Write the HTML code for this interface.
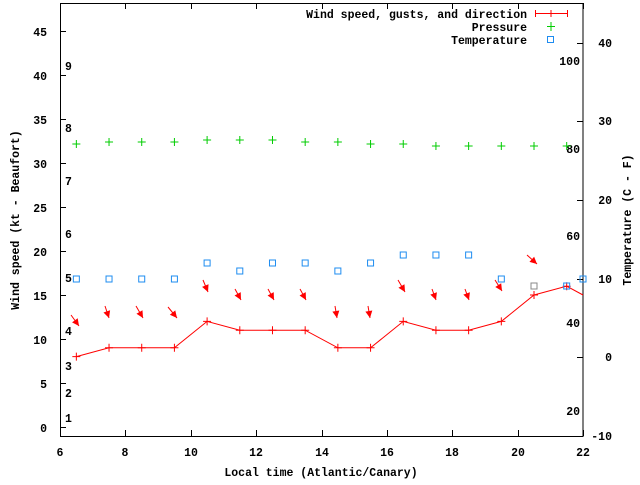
<!DOCTYPE html>
<html><head><style>
body{margin:0;background:#fff}
svg text{font-family:"Liberation Mono",monospace;font-weight:bold;font-size:11.5px;fill:#000}
</style></head><body>
<svg id="s" width="640" height="480" xmlns="http://www.w3.org/2000/svg">
<rect width="640" height="480" fill="#fff"/>
<g id="g" stroke="#000" fill="none" stroke-width="1"></g>
<rect x="60.5" y="3.5" width="522.5" height="433" fill="none" stroke="#000"/>
<g text-anchor="end">
<text x="47" y="432">0</text><text x="47" y="388">5</text><text x="47" y="344">10</text><text x="47" y="300">15</text><text x="47" y="256">20</text><text x="47" y="212">25</text><text x="47" y="168">30</text><text x="47" y="124">35</text><text x="47" y="80">40</text><text x="47" y="36">45</text>
</g>
<g text-anchor="end">
<text x="612" y="440">-10</text><text x="612" y="361">0</text><text x="612" y="283">10</text><text x="612" y="204">20</text><text x="612" y="125">30</text><text x="612" y="47">40</text>
</g>
<g text-anchor="end">
<text x="580" y="65">100</text><text x="580" y="153">80</text><text x="580" y="240">60</text><text x="580" y="327">40</text><text x="580" y="415">20</text>
</g>
<g>
<text x="65" y="422">1</text><text x="65" y="397">2</text><text x="65" y="370">3</text><text x="65" y="335">4</text><text x="65" y="282">5</text><text x="65" y="238">6</text><text x="65" y="185">7</text><text x="65" y="132">8</text><text x="65" y="70">9</text>
</g>
<g text-anchor="middle">
<text x="60" y="456">6</text><text x="125" y="456">8</text><text x="191" y="456">10</text><text x="256" y="456">12</text><text x="322" y="456">14</text><text x="387" y="456">16</text><text x="452" y="456">18</text><text x="518" y="456">20</text><text x="583" y="456">22</text>
<text x="321" y="476">Local time (Atlantic/Canary)</text>
</g>
<text transform="translate(19,220) rotate(-90)" text-anchor="middle">Wind speed (kt - Beaufort)</text>
<text transform="translate(631,220) rotate(-90)" text-anchor="middle">Temperature (C - F)</text>
<g text-anchor="end">
<text x="527" y="18">Wind speed, gusts, and direction</text>
<text x="527" y="31">Pressure</text>
<text x="527" y="44">Temperature</text>
</g>
<g stroke="#f00"><line x1="535" y1="13.5" x2="567" y2="13.5"/><line x1="535.5" y1="10" x2="535.5" y2="17"/><line x1="567.5" y1="10" x2="567.5" y2="17"/><line x1="551" y1="10" x2="551" y2="17"/></g>
<g stroke="#0c0"><line x1="547" y1="26.5" x2="555" y2="26.5"/><line x1="551" y1="22" x2="551" y2="31"/></g>
<rect x="547.5" y="36.5" width="6" height="6" fill="none" stroke="#1e8cf0"/>
<g id="d"></g>
</svg>
<script>
var NS="http://www.w3.org/2000/svg",g=document.getElementById('g'),d=document.getElementById('d');
function X(h){return 60+(h-6)*32.69}
function Y(v){return 427-v*8.8}
function el(t,a,p){var e=document.createElementNS(NS,t);for(var k in a)e.setAttribute(k,a[k]);(p||d).appendChild(e);return e}
for(var v=0;v<=45;v+=5){var y=Math.round(Y(v))+.5;el('line',{x1:60,y1:y,x2:66,y2:y},g)}
for(var h=6;h<=22;h+=2){var x=Math.round(X(h))+.5;el('line',{x1:x,y1:436,x2:x,y2:430},g);el('line',{x1:x,y1:3,x2:x,y2:9},g)}
[436,357,279,200,121,43].forEach(function(y){el('line',{x1:577,y1:y+.5,x2:583,y2:y+.5},g)});
var w=[8,9,9,9,12,11,11,11,9,9,12,11,11,12,15,16];
var pts=w.map(function(v,i){return X(6.5+i)+','+Y(v)}).join(' ')+' 583,'+Y(15);
el('polyline',{points:pts,fill:'none',stroke:'#f00'});
w.forEach(function(v,i){var x=X(6.5+i),y=Y(v);el('path',{d:'M'+(x-4)+' '+y+'h8M'+x+' '+(y-4)+'v8',stroke:'#f00'})});
var p=[144,142,142,142,140,140,140,142,142,144,144,146,146,146,146,146];
p.forEach(function(y,i){var x=X(6.5+i);el('path',{d:'M'+(x-4)+' '+y+'h8M'+x+' '+(y-4)+'v8',stroke:'#0c0'})});
var t=[279,279,279,279,263,271,263,263,271,263,255,255,255,279,286,286];
t.forEach(function(y,i){var x=X(6.5+i);el('rect',{x:x-3,y:y-3,width:6,height:6,fill:'none',stroke:i==14?'#888':'#1e8cf0'})});
el('rect',{x:580,y:276,width:6,height:6,fill:'none',stroke:'#1e8cf0'});
var a=[[71,315,79,326],[105,306,109,318],[136,306,143,318],[168,307,177,318],[203,280,208,292],[235,289,241,300],[268,289,274,300],[300,289,306,300],[335,306,337,318],[368,306,370,318],[398,280,405,292],[432,289,436,300],[465,289,469,300],[495,280,502,291],[527,255,537,264]];
a.forEach(function(q){var dx=q[2]-q[0],dy=q[3]-q[1],L=Math.hypot(dx,dy),ux=dx/L,uy=dy/L;
el('line',{x1:q[0],y1:q[1],x2:q[2],y2:q[3],stroke:'#f00'});
var bx=q[2]-ux*7,by=q[3]-uy*7;
el('polygon',{points:q[2]+','+q[3]+' '+(bx-uy*3.5)+','+(by+ux*3.5)+' '+(bx+uy*3.5)+','+(by-ux*3.5),fill:'#f00'})});
</script>
</body></html>
